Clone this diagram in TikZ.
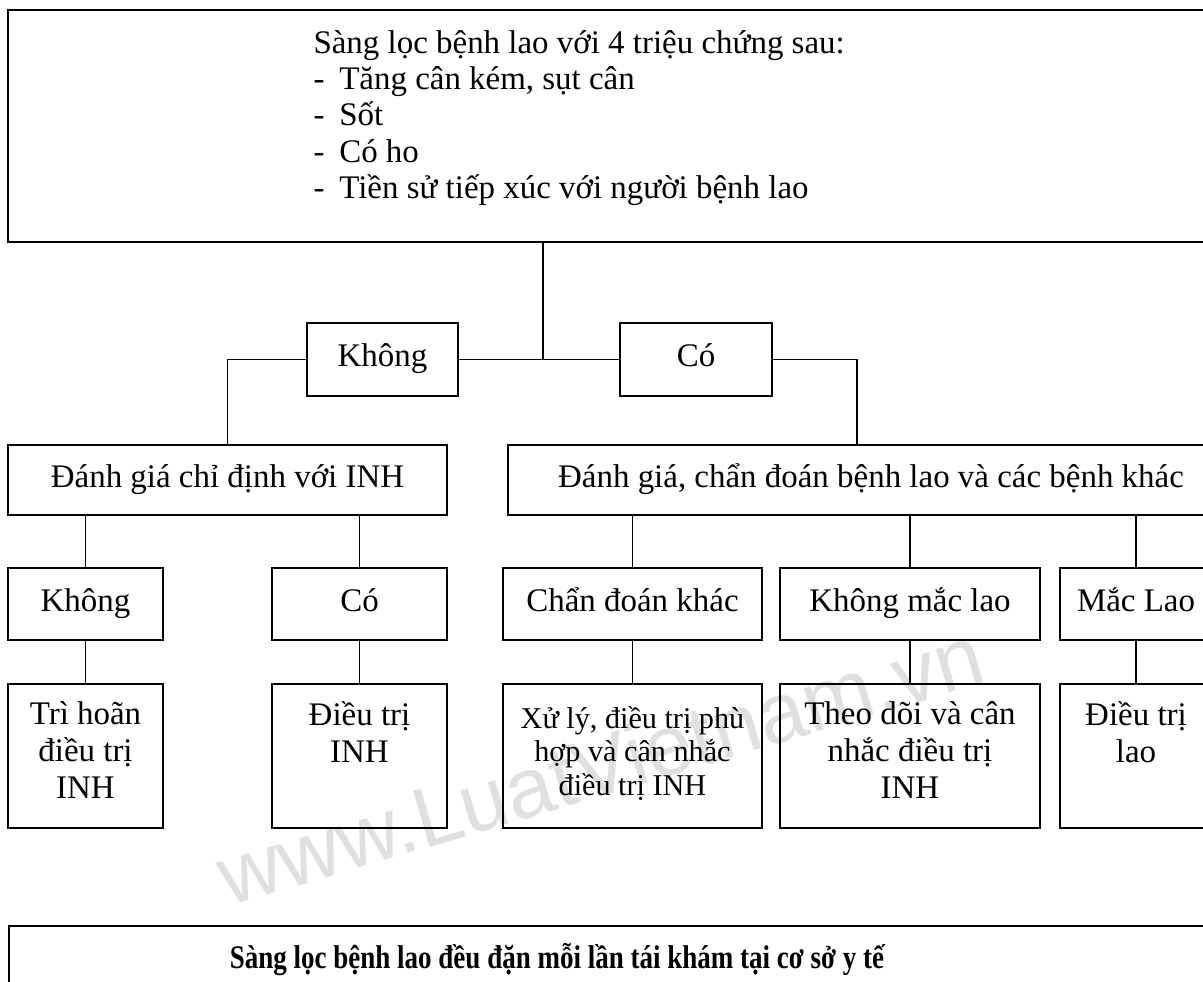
\documentclass[tikz,border=0pt]{standalone}
\usepackage{fontspec}
\setmainfont{Liberation Serif}
\newfontfamily\wmfont{Liberation Sans}
\newfontfamily\narrowfont[FakeStretch=0.82]{Liberation Serif}

% one unit = one pixel of the 1203x982 sheet
\def\pxu{0.0128cm}
\tikzset{
  box/.style={draw, line width=0.75pt, inner sep=0pt, align=center,
    font=\fontsize{12pt}{13.5pt}\selectfont,
    execute at begin node=\strut, execute at end node=\strut},
  line/.style={line width=0.65pt},
}

\begin{document}
\begin{tikzpicture}[x=0.0128cm, y=-0.0128cm]
			\useasboundingbox (0,0) rectangle (1203,982);
			\clip (0,0) rectangle (1203,982);
			% watermark
			\node (wm) [rotate=16.5, text=black!12, font=\wmfont\fontsize{31pt}{31pt}\selectfont] at (600,765) {www.LuatVietnam.vn};
			% screening box
			\node (screen) [box, minimum width={1226*\pxu}, minimum height={232*\pxu}] at (621,126) {};
			\node (sympt) [anchor=north west, inner sep=0pt, align=left, font=\fontsize{12pt}{13.2pt}\selectfont] at (313,30)
				{Sàng lọc bệnh lao với 4 triệu chứng sau:\\-\hspace{0.45em}Tăng cân kém, sụt cân\\-\hspace{0.45em}Sốt\\-\hspace{0.45em}Có ho\\-\hspace{0.45em}Tiền sử tiếp xúc với người bệnh lao};
			% answers
			\node (no1) [box, minimum width={151*\pxu}, minimum height={73*\pxu}] at (382.5,359.5) {Không};
			\node (yes1) [box, minimum width={152*\pxu}, minimum height={73*\pxu}] at (696,359.5) {Có};
			\node (inh) [box, minimum width={439*\pxu}, minimum height={70*\pxu}] at (227.5,480) {Đánh giá chỉ định với INH};
			\node (diag) [box, minimum width={726*\pxu}, minimum height={70*\pxu}] at (871,480) {Đánh giá, chẩn đoán bệnh lao và các bệnh khác};
			% results
			\node (no2) [box, minimum width={155*\pxu}, minimum height={72*\pxu}] at (85.5,604) {Không};
			\node (yes2) [box, minimum width={175*\pxu}, minimum height={72*\pxu}] at (359.5,604) {Có};
			\node (other) [box, minimum width={259*\pxu}, minimum height={72*\pxu}] at (632.5,604) {Chẩn đoán khác};
			\node (notb) [box, minimum width={260*\pxu}, minimum height={72*\pxu}] at (910,604) {Không mắc lao};
			\node (tb) [box, minimum width={152*\pxu}, minimum height={72*\pxu}] at (1136,604) {Mắc Lao};
			% actions
			\node (delay) [box, minimum width={155*\pxu}, minimum height={144*\pxu}] at (85.5,756) {Trì hoãn\\điều trị\\INH};
			\node (treat) [box, minimum width={175*\pxu}, minimum height={144*\pxu}] at (359.5,756) {Điều trị\\INH\\~};
			\node (manage) [box, minimum width={259*\pxu}, minimum height={144*\pxu}, font=\fontsize{11pt}{12.3pt}\selectfont] at (632.5,756) {Xử lý, điều trị phù\\hợp và cân nhắc\\điều trị INH};
			\node (watch) [box, minimum width={260*\pxu}, minimum height={144*\pxu}] at (910,756) {Theo dõi và cân\\nhắc điều trị\\INH};
			\node (cure) [box, minimum width={152*\pxu}, minimum height={144*\pxu}] at (1136,756) {Điều trị\\lao\\~};
			% follow-up
			\node (regular) [box, anchor=north west, minimum width={1226*\pxu}, minimum height={150*\pxu}] at (8,925) {};
			\node (regtext) [font=\narrowfont\bfseries\fontsize{12pt}{14pt}\selectfont] at (557,960) {Sàng lọc bệnh lao đều đặn mỗi lần tái khám tại cơ sở y tế};
			% connectors
			\coordinate (split) at (543,0);
			\coordinate (rbend) at (857,0);
			\draw[line] (split |- screen.south) -- (split |- no1.east);
			\draw[line] (no1.east) -- (yes1.west);
			\draw[line] (no1.west) -| (inh.north);
			\draw[line] (yes1.east) -| (rbend |- diag.north);
			\foreach \n in {no2,yes2}
				\draw[line] (\n.north |- inh.south) -- (\n.north);
			\foreach \n in {other,notb,tb}
				\draw[line] (\n.north |- diag.south) -- (\n.north);
			\foreach \a/\b in {no2/delay,yes2/treat,other/manage,notb/watch,tb/cure}
				\draw[line] (\a) -- (\b);
		\end{tikzpicture}
\end{document}
